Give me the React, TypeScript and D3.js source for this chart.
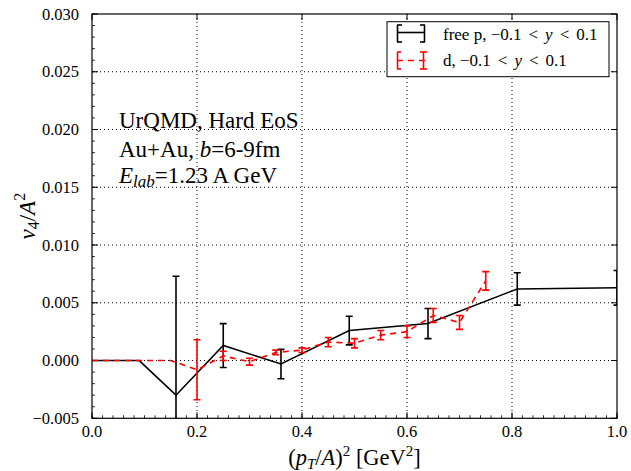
import React from 'react';
import * as d3 from 'd3';

const pX = [0, 0.09, 0.16, 0.25, 0.36, 0.49, 0.64, 0.81, 1.0];
const pY = [0, 0, -0.003, 0.0013, -0.0003, 0.0026, 0.0032, 0.0062, 0.0063];
const pErr = [0, 0, 0.0103, 0.0019, 0.00127, 0.00124, 0.0013, 0.0014, 0.0015];

const dX = [0, 0.05, 0.1, 0.15, 0.2, 0.25, 0.3, 0.35, 0.4, 0.45, 0.5, 0.55, 0.6, 0.65, 0.7, 0.75];
const dY = [0, 0, 0, 0, -0.0008, 0.0004, -0.0001, 0.0007, 0.0009, 0.0016, 0.0015, 0.0022, 0.0025, 0.0039, 0.0033, 0.0069];
const dErr = [0, 0, 0, 0, 0.0026, 0.0004, 0.0003, 0.0002, 0.0002, 0.0004, 0.0004, 0.0004, 0.0005, 0.0006, 0.0006, 0.0008];

const xTicks = [0, 0.2, 0.4, 0.6, 0.8, 1.0];
const yTicks = [-0.005, 0, 0.005, 0.01, 0.015, 0.02, 0.025, 0.03];

const W = 631, H = 471;
const L = 92, R = 617, T = 14, B = 418.3;
const FONT = '"Liberation Serif", "DejaVu Serif", serif';

function RangeText({ x, y, label }: { x: number; y: number; label: string }) {
  return (
    <text x={x} y={y}>
      {label}, {'\u2212'}0.1<tspan dx={7}>{'<'}</tspan><tspan dx={7} fontStyle="italic">y</tspan><tspan dx={7}>{'<'}</tspan><tspan dx={7}>0.1</tspan>
    </text>
  );
}

export default function App() {
  const x = d3.scaleLinear().domain([0, 1]).range([L, R]);
  const y = d3.scaleLinear().domain([-0.005, 0.03]).range([B, T]);
  const pLine = d3.line<[number, number]>().x(d => x(d[0])).y(d => y(d[1]));
  const pPts: [number, number][] = pX.map((v, i) => [v, pY[i]]);
  const dPts: [number, number][] = dX.map((v, i) => [v, dY[i]]);
  const xMinor = d3.range(0, 1.0001, 0.02);
  const yMinor = d3.range(-0.005, 0.03001, 0.001);
  const cap = 3.5;
  const fmtY = (v: number) => (v < 0 ? '\u2212' : '') + Math.abs(v).toFixed(3);
  const fmtX = (v: number) => v.toFixed(1);
  return (
    <svg width={W} height={H} style={{ position: 'absolute', left: 0, top: 0 }} fontFamily={FONT}>
      <rect x={0} y={0} width={W} height={H} fill="#fff" />
      <defs>
        <clipPath id="plot">
          <rect x={L} y={T} width={R - L} height={B - T} />
        </clipPath>
      </defs>
      {/* grid */}
      {xTicks.filter(v => v > 0 && v < 1).map(v => (
        <line key={'gx' + v} x1={x(v)} x2={x(v)} y1={T} y2={B} stroke="#000" strokeWidth={1} strokeDasharray="1,3" />
      ))}
      {yTicks.filter(v => v > -0.005 && v < 0.03).map(v => (
        <line key={'gy' + v} x1={L} x2={R} y1={y(v)} y2={y(v)} stroke="#000" strokeWidth={1} strokeDasharray="1,3" />
      ))}
      {/* minor ticks */}
      {xMinor.map(v => (
        <line key={'mx' + v} x1={x(v)} x2={x(v)} y1={B} y2={B - 3} stroke="#000" strokeWidth={0.8} />
      ))}
      {yMinor.map(v => (
        <line key={'my' + v} x1={L} x2={L + 3} y1={y(v)} y2={y(v)} stroke="#000" strokeWidth={0.8} />
      ))}
      {/* major ticks */}
      {xTicks.map(v => (
        <g key={'tx' + v}>
          <line x1={x(v)} x2={x(v)} y1={B} y2={B - 6} stroke="#000" strokeWidth={1} />
          <line x1={x(v)} x2={x(v)} y1={T} y2={T + 6} stroke="#000" strokeWidth={1} />
          <text x={x(v)} y={437} fontSize={16.5} textAnchor="middle">{fmtX(v)}</text>
        </g>
      ))}
      {yTicks.map(v => (
        <g key={'ty' + v}>
          <line x1={L} x2={L + 6} y1={y(v)} y2={y(v)} stroke="#000" strokeWidth={1} />
          <line x1={R} x2={R - 6} y1={y(v)} y2={y(v)} stroke="#000" strokeWidth={1} />
          <text x={79} y={y(v) + 5.5} fontSize={16.5} textAnchor="end">{fmtY(v)}</text>
        </g>
      ))}
      {/* data */}
      <g clipPath="url(#plot)">
        <path d={pLine(pPts) || ''} fill="none" stroke="#000" strokeWidth={1.6} />
        {pX.map((v, i) => pErr[i] > 0 ? (
          <g key={'pe' + i} stroke="#000" strokeWidth={1.6}>
            <line x1={x(v)} x2={x(v)} y1={y(pY[i] - pErr[i])} y2={y(pY[i] + pErr[i])} />
            <line x1={x(v) - cap} x2={x(v) + cap} y1={y(pY[i] - pErr[i])} y2={y(pY[i] - pErr[i])} />
            <line x1={x(v) - cap} x2={x(v) + cap} y1={y(pY[i] + pErr[i])} y2={y(pY[i] + pErr[i])} />
          </g>
        ) : null)}
        <path d={pLine(dPts) || ''} fill="none" stroke="#ff0000" strokeWidth={1.6} strokeDasharray="6,5" />
        {dX.map((v, i) => dErr[i] > 0 ? (
          <g key={'de' + i} stroke="#ff0000" strokeWidth={1.6}>
            <line x1={x(v)} x2={x(v)} y1={y(dY[i] - dErr[i])} y2={y(dY[i] + dErr[i])} />
            <line x1={x(v) - cap} x2={x(v) + cap} y1={y(dY[i] - dErr[i])} y2={y(dY[i] - dErr[i])} />
            <line x1={x(v) - cap} x2={x(v) + cap} y1={y(dY[i] + dErr[i])} y2={y(dY[i] + dErr[i])} />
          </g>
        ) : null)}
      </g>
      {/* frame */}
      <rect x={L} y={T} width={R - L} height={B - T} fill="none" stroke="#000" strokeWidth={1.2} />
      {/* annotation */}
      <g fontSize={23}>
        <text x={119} y={128}>UrQMD, Hard EoS</text>
        <text x={119} y={157}>Au+Au, <tspan fontStyle="italic">b</tspan>=6-9fm</text>
        <text x={119} y={183}><tspan fontStyle="italic">E</tspan><tspan fontStyle="italic" fontSize={17} dy={4}>lab</tspan><tspan dy={-4}>=1.23 A GeV</tspan></text>
      </g>
      {/* legend */}
      <rect x={387} y={21.7} width={222} height={55} fill="#fff" stroke="#000" strokeWidth={1} />
      <g stroke="#000" strokeWidth={1.6}>
        <line x1={397} x2={425} y1={32.5} y2={32.5} />
        <line x1={397.5} x2={397.5} y1={25} y2={42} />
        <line x1={424.5} x2={424.5} y1={25} y2={42} />
        <line x1={397} x2={402} y1={25} y2={25} />
        <line x1={397} x2={402} y1={42} y2={42} />
        <line x1={420} x2={425} y1={25} y2={25} />
        <line x1={420} x2={425} y1={42} y2={42} />
      </g>
      <g stroke="#ff0000" strokeWidth={1.6}>
        <line x1={397} x2={425} y1={60.5} y2={60.5} strokeDasharray="6,5" />
        <line x1={397.5} x2={397.5} y1={52} y2={69} />
        <line x1={423.5} x2={423.5} y1={52} y2={69} />
        <line x1={397} x2={401} y1={52} y2={52} />
        <line x1={397} x2={401} y1={69} y2={69} />
        <line x1={420} x2={427} y1={52} y2={52} />
        <line x1={420} x2={427} y1={69} y2={69} />
      </g>
      <g fontSize={17}>
        <RangeText x={443} y={40} label="free p" />
        <RangeText x={443} y={66} label="d" />
      </g>
      {/* axis labels */}
      <text x={(L + R) / 2} y={465} fontSize={22.5} textAnchor="middle">
        (<tspan fontStyle="italic">p</tspan><tspan fontStyle="italic" fontSize={15} dy={4}>T</tspan><tspan dy={-4}>/</tspan><tspan fontStyle="italic">A</tspan>)<tspan fontSize={15} dy={-9}>2</tspan><tspan dy={9}> [GeV</tspan><tspan fontSize={15} dy={-9}>2</tspan><tspan dy={9}>]</tspan>
      </text>
      <text transform={`translate(35, ${(T + B) / 2}) rotate(-90)`} fontSize={23} textAnchor="middle">
        <tspan fontStyle="italic">v</tspan><tspan fontSize={16} dy={4}>4</tspan><tspan dy={-4}>/</tspan><tspan fontStyle="italic">A</tspan><tspan fontSize={16} dy={-10}>2</tspan>
      </text>
    </svg>
  );
}
